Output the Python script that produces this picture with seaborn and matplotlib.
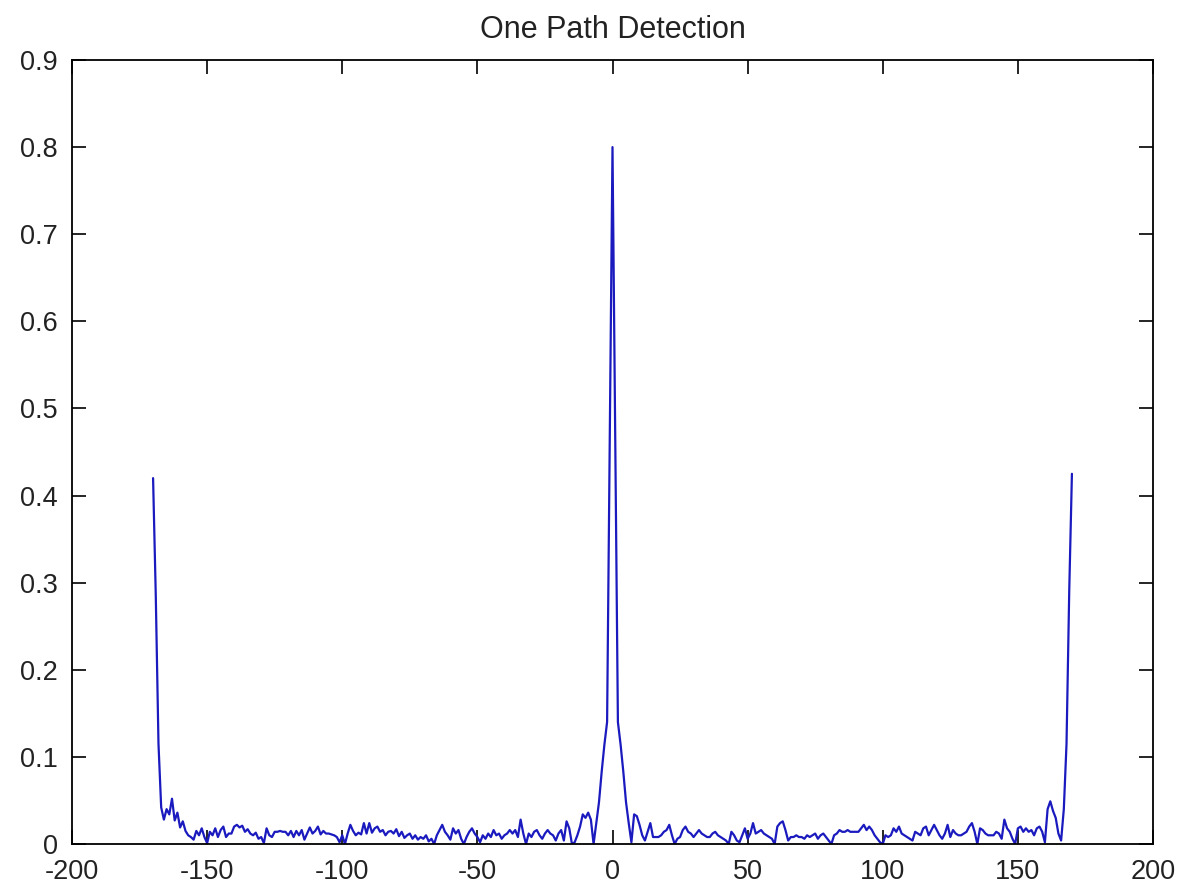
import numpy as np
import pandas as pd
import matplotlib
matplotlib.use("Agg")
import matplotlib.pyplot as plt
import seaborn as sns

# ---- data ----
lags = list(range(-170, 171))
magnitude = [
    0.420, 0.285, 0.115, 0.042, 0.028, 0.040, 0.034, 0.052, 0.027, 0.036,   # -170..-161
    0.019, 0.026, 0.015, 0.010, 0.008, 0.005, 0.015, 0.010, 0.018, 0.008,   # -160..-151
    0.001, 0.014, 0.010, 0.018, 0.008, 0.016, 0.020, 0.008, 0.012, 0.012,   # -150..-141
    0.020, 0.022, 0.019, 0.021, 0.014, 0.017, 0.012, 0.010, 0.013, 0.006,   # -140..-131
    0.008, 0.001, 0.018, 0.010, 0.008, 0.014, 0.014, 0.015, 0.014, 0.014,   # -130..-121
    0.010, 0.015, 0.008, 0.015, 0.010, 0.016, 0.005, 0.012, 0.019, 0.012,   # -120..-111
    0.015, 0.020, 0.011, 0.015, 0.012, 0.012, 0.011, 0.010, 0.008, 0.002,   # -110..-101
    0.010, 0.000, 0.012, 0.022, 0.015, 0.010, 0.013, 0.011, 0.024, 0.012,   # -100..-91
    0.024, 0.013, 0.018, 0.020, 0.014, 0.016, 0.010, 0.014, 0.015, 0.012,   # -90..-81
    0.017, 0.009, 0.014, 0.007, 0.010, 0.012, 0.006, 0.010, 0.005, 0.008,   # -80..-71
    0.006, 0.010, 0.003, 0.006, 0.000, 0.010, 0.016, 0.022, 0.014, 0.010,   # -70..-61
    0.005, 0.018, 0.012, 0.016, 0.006, 0.000, 0.008, 0.014, 0.018, 0.012,   # -60..-51
    0.008, 0.002, 0.010, 0.006, 0.012, 0.008, 0.016, 0.010, 0.012, 0.006,   # -50..-41
    0.010, 0.012, 0.016, 0.012, 0.016, 0.008, 0.028, 0.012, 0.000, 0.012,   # -40..-31
    0.008, 0.014, 0.016, 0.010, 0.006, 0.012, 0.016, 0.012, 0.010, 0.004,   # -30..-21
    0.012, 0.016, 0.004, 0.026, 0.018, 0.000, 0.002, 0.010, 0.020, 0.034,   # -20..-11
    0.030, 0.036, 0.028, 0.000, 0.024, 0.048, 0.083, 0.114, 0.140, 0.475,   # -10..-1
    0.800, 0.475, 0.140, 0.114, 0.083, 0.048, 0.024, 0.002, 0.034, 0.032,   # 0..9
    0.022, 0.010, 0.004, 0.014, 0.024, 0.008, 0.008, 0.008, 0.010, 0.014,   # 10..19
    0.016, 0.022, 0.010, 0.000, 0.006, 0.008, 0.016, 0.020, 0.014, 0.012,   # 20..29
    0.008, 0.012, 0.016, 0.012, 0.010, 0.008, 0.008, 0.012, 0.014, 0.010,   # 30..39
    0.008, 0.006, 0.004, 0.000, 0.014, 0.010, 0.004, 0.002, 0.010, 0.018,   # 40..49
    0.006, 0.012, 0.024, 0.012, 0.014, 0.016, 0.012, 0.010, 0.008, 0.006,   # 50..59
    0.000, 0.020, 0.024, 0.026, 0.016, 0.004, 0.008, 0.008, 0.010, 0.008,   # 60..69
    0.008, 0.006, 0.010, 0.008, 0.010, 0.012, 0.006, 0.010, 0.012, 0.008,   # 70..79
    0.004, 0.000, 0.010, 0.012, 0.016, 0.014, 0.014, 0.016, 0.014, 0.014,   # 80..89
    0.014, 0.014, 0.018, 0.022, 0.016, 0.020, 0.016, 0.010, 0.006, 0.002,   # 90..99
    0.000, 0.010, 0.008, 0.010, 0.018, 0.014, 0.020, 0.012, 0.010, 0.008,   # 100..109
    0.006, 0.004, 0.014, 0.012, 0.010, 0.018, 0.020, 0.010, 0.016, 0.022,   # 110..119
    0.016, 0.010, 0.006, 0.012, 0.022, 0.008, 0.016, 0.012, 0.010, 0.010,   # 120..129
    0.012, 0.014, 0.020, 0.024, 0.014, 0.000, 0.018, 0.016, 0.012, 0.010,   # 130..139
    0.010, 0.010, 0.014, 0.012, 0.006, 0.028, 0.018, 0.014, 0.006, 0.000,   # 140..149
    0.018, 0.020, 0.014, 0.018, 0.014, 0.016, 0.010, 0.018, 0.020, 0.014,   # 150..159
    0.002, 0.040, 0.049, 0.038, 0.030, 0.012, 0.004, 0.040, 0.115, 0.290, 0.425,  # 160..170
]

x_ticks = [-200, -150, -100, -50, 0, 50, 100, 150, 200]
x_tick_labels = ["-200", "-150", "-100", "-50", "0", "50", "100", "150", "200"]
y_ticks = [0, 0.1, 0.2, 0.3, 0.4, 0.5, 0.6, 0.7, 0.8, 0.9]
y_tick_labels = ["0", "0.1", "0.2", "0.3", "0.4", "0.5", "0.6", "0.7", "0.8", "0.9"]
title = "One Path Detection"

df = pd.DataFrame({"lag": lags, "magnitude": magnitude})

sns.set_style("ticks")
plt.rcParams['font.family'] = ['Liberation Sans', 'DejaVu Sans']

W, H = 1182, 888
fig = plt.figure(figsize=(W / 100, H / 100), dpi=100)
fig.patch.set_facecolor("white")
ax = fig.add_axes([72 / W, 44 / H, 1081 / W, 784 / H])

sns.lineplot(data=df, x="lag", y="magnitude", ax=ax, color="#1a1abf",
             linewidth=1.6, estimator=None, sort=False)

ax.set_xlim(-200, 200)
ax.set_ylim(0, 0.9)
ax.set_xticks(x_ticks)
ax.set_xticklabels(x_tick_labels)
ax.set_yticks(y_ticks)
ax.set_yticklabels(y_tick_labels)
ax.set_xlabel("")
ax.set_ylabel("")

for s in ax.spines.values():
    s.set_visible(True)
    s.set_color("black")
    s.set_linewidth(1.3)

ax.tick_params(axis="both", direction="in", length=10, width=1.2,
               top=True, right=True, labelsize=19.5, colors="black")
ax.tick_params(axis="x", labelcolor="#222222", pad=11)
ax.tick_params(axis="y", labelcolor="#222222", pad=10)

ax.set_title(title, fontsize=22, pad=16, color="#222222")

fig.savefig("out.png", dpi=100, facecolor="white")
